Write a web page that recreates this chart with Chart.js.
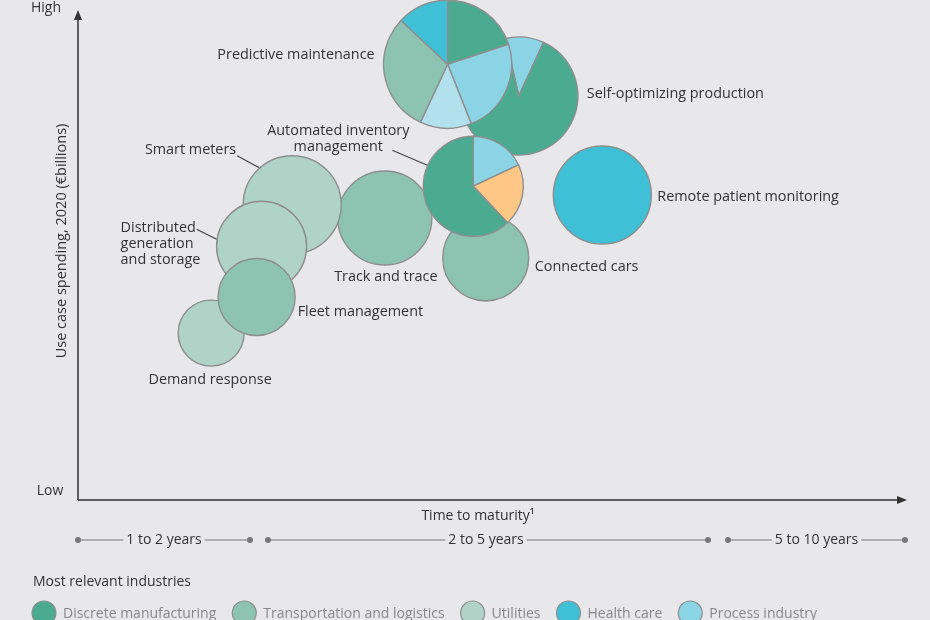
<!DOCTYPE html>
<html>
<head>
<meta charset="utf-8">
<script src="https://cdn.jsdelivr.net/npm/chart.js@4"></script>
<style>
  html, body { margin: 0; padding: 0; background: #e8e8ea; }
  #wrap { width: 930px; height: 620px; }
</style>
</head>
<body>
<div id="wrap"><canvas id="chart" width="930" height="620"></canvas></div>
<script>
/* DATA */

// drawn back to front
const useCases = [
  "Self-optimizing production", "Predictive maintenance", "Connected cars",
  "Track and trace", "Automated inventory management", "Remote patient monitoring",
  "Smart meters", "Distributed generation and storage", "Demand response", "Fleet management"
];
const maturity = [53.3, 44.7, 49.3, 37.1, 47.8, 63.4, 25.9, 22.2, 16.1, 21.6];
const spending = [82.8, 89.3, 49.6, 57.8, 64.3, 62.5, 60.5, 52.0, 34.2, 41.6];
const bubbleSize = [59, 64, 43, 47, 50, 49, 49, 45, 33, 38.5];
const industry = ["mix", "mix", "transport", "transport", "mix", "health",
                  "utilities", "utilities", "utilities", "transport"];

// pie shares (%), clockwise from the start angle
const selfOptIndustries = ["process", "discrete"];
const selfOptShares = [10.5, 89.5];
const predictiveIndustries = ["discrete", "process", "processLight", "transport", "health"];
const predictiveShares = [20, 24, 13, 30, 13];
const inventoryIndustries = ["process", "retail", "discrete"];
const inventoryShares = [18, 20, 62];

const legendLabels = ["Discrete manufacturing", "Transportation and logistics", "Utilities", "Health care", "Process industry"];
const legendKeys = ["discrete", "transport", "utilities", "health", "process"];

const maturityBands = ["1 to 2 years", "2 to 5 years", "5 to 10 years"];

/* STYLE */

const COLORS = {
  discrete: "#4aab90",
  transport: "#8cc4b1",
  utilities: "#afd3c6",
  health: "#3fc0d6",
  process: "#8bd4e5",
  processLight: "#b2e1ed",
  retail: "#ffc785"
};
const EDGE = "#8e8e8e";
const FONT = "'Open Sans', sans-serif";

const pies = {
  "Self-optimizing production": { keys: selfOptIndustries, shares: selfOptShares, start: -13 },
  "Predictive maintenance": { keys: predictiveIndustries, shares: predictiveShares, start: 0 },
  "Automated inventory management": { keys: inventoryIndustries, shares: inventoryShares, start: 0 }
};

// label placement relative to bubble centre (px)
const labelSpots = {
  "Self-optimizing production": { lines: ["Self-optimizing production"], dx: 68, dy: -2, align: "left" },
  "Predictive maintenance": { lines: ["Predictive maintenance"], dx: -73, dy: -9, align: "right" },
  "Connected cars": { lines: ["Connected cars"], dx: 49, dy: 9, align: "left" },
  "Track and trace": { lines: ["Track and trace"], dx: 1, dy: 59, align: "center" },
  "Automated inventory management": { lines: ["Automated inventory", "management"], dx: -135, dy: -55, align: "center",
    leader: [-81, -36, -46, -21] },
  "Remote patient monitoring": { lines: ["Remote patient monitoring"], dx: 55, dy: 2, align: "left" },
  "Smart meters": { lines: ["Smart meters"], dx: -56, dy: -55, align: "right", leader: [-55, -49, -33, -37] },
  "Distributed generation and storage": { lines: ["Distributed", "generation", "and storage"], dx: -141, dy: -18, align: "left",
    leader: [-65, -17, -45, -7] },
  "Demand response": { lines: ["Demand response"], dx: -1, dy: 47, align: "center" },
  "Fleet management": { lines: ["Fleet management"], dx: 41, dy: 15, align: "left" }
};

/* DATASETS (index 0 is drawn on top, so reverse) */

const datasets = useCases.map((name, i) => {
  const isPie = industry[i] === "mix";
  return {
    label: name,
    data: [{ x: maturity[i], y: spending[i], r: bubbleSize[i] }],
    backgroundColor: isPie ? "rgba(0,0,0,0)" : COLORS[industry[i]],
    borderColor: isPie ? "rgba(0,0,0,0)" : EDGE,
    borderWidth: isPie ? 0 : 1.4,
    hoverBorderWidth: isPie ? 0 : 1.4
  };
}).reverse();

/* PLUGINS */

const piePlugin = {
  id: "pies",
  afterDatasetDraw(chart, args) {
    const ds = chart.data.datasets[args.index];
    const pie = pies[ds.label];
    if (!pie) return;
    const el = args.meta.data[0];
    const r = el.options.radius;
    const ctx = chart.ctx;
    const total = pie.shares.reduce((a, b) => a + b, 0);
    let a = (pie.start - 90) * Math.PI / 180;
    ctx.save();
    pie.shares.forEach((s, k) => {
      const b = a + s / total * Math.PI * 2;
      ctx.beginPath();
      ctx.moveTo(el.x, el.y);
      ctx.arc(el.x, el.y, r, a, b);
      ctx.closePath();
      ctx.fillStyle = COLORS[pie.keys[k]];
      ctx.fill();
      ctx.strokeStyle = EDGE;
      ctx.lineWidth = 1.4;
      ctx.stroke();
      a = b;
    });
    ctx.restore();
  }
};

const decorPlugin = {
  id: "decor",
  afterDraw(chart) {
    const ctx = chart.ctx;
    const area = chart.chartArea;
    ctx.save();

    // axes with arrows
    ctx.strokeStyle = "#333";
    ctx.fillStyle = "#333";
    ctx.lineWidth = 1.5;
    ctx.beginPath();
    ctx.moveTo(area.left, area.bottom);
    ctx.lineTo(area.left, area.top + 4);
    ctx.moveTo(area.left, area.bottom);
    ctx.lineTo(area.right - 4, area.bottom);
    ctx.stroke();
    ctx.beginPath();
    ctx.moveTo(area.left, area.top - 2);
    ctx.lineTo(area.left - 4, area.top + 8);
    ctx.lineTo(area.left + 4, area.top + 8);
    ctx.fill();
    ctx.beginPath();
    ctx.moveTo(area.right + 2, area.bottom);
    ctx.lineTo(area.right - 8, area.bottom - 4);
    ctx.lineTo(area.right - 8, area.bottom + 4);
    ctx.fill();

    ctx.font = "14px " + FONT;
    ctx.fillStyle = "#333";
    ctx.textBaseline = "middle";
    ctx.textAlign = "center";
    ctx.fillText("High", 46, 8);
    ctx.fillText("Low", 50, 491);

    // axis titles
    ctx.save();
    ctx.font = "14.5px " + FONT;
    ctx.translate(62, 241);
    ctx.rotate(-Math.PI / 2);
    ctx.fillText("Use case spending, 2020 (€billions)", 0, 0);
    ctx.restore();
    ctx.fillText("Time to maturity¹", 478, 516);

    // maturity bands
    const bands = [[area.left, 250], [268, 708], [728, area.right]];
    ctx.strokeStyle = "#777";
    ctx.lineWidth = 1;
    bands.forEach(([x0, x1], i) => {
      const y = 540;
      const mid = i === 1 ? 486 : (x0 + x1) / 2;
      const w = ctx.measureText(maturityBands[i]).width;
      ctx.beginPath();
      ctx.moveTo(x0, y);
      ctx.lineTo(mid - w / 2 - 3, y);
      ctx.moveTo(mid + w / 2 + 3, y);
      ctx.lineTo(x1, y);
      ctx.stroke();
      ctx.fillStyle = "#777";
      [x0, x1].forEach(x => {
        ctx.beginPath();
        ctx.arc(x, y, 3, 0, Math.PI * 2);
        ctx.fill();
      });
      ctx.fillStyle = "#333";
      ctx.fillText(maturityBands[i], mid, y);
    });

    // bubble labels
    ctx.font = "14.4px " + FONT;
    ctx.fillStyle = "#333";
    chart.data.datasets.forEach((ds, i) => {
      const spot = labelSpots[ds.label];
      const el = chart.getDatasetMeta(i).data[0];
      if (!spot || !el) return;
      ctx.textAlign = spot.align;
      spot.lines.forEach((line, k) => {
        ctx.fillText(line, el.x + spot.dx, el.y + spot.dy + k * 16);
      });
      if (spot.leader) {
        const [a, b, c, d] = spot.leader;
        ctx.strokeStyle = "#444";
        ctx.lineWidth = 1.2;
        ctx.beginPath();
        ctx.moveTo(el.x + a, el.y + b);
        ctx.lineTo(el.x + c, el.y + d);
        ctx.stroke();
      }
    });

    // legend
    ctx.font = "14px " + FONT;
    ctx.textAlign = "left";
    ctx.fillStyle = "#333";
    ctx.fillText("Most relevant industries", 33, 582);
    let x = 32;
    legendKeys.forEach((key, i) => {
      ctx.beginPath();
      ctx.arc(x + 12, 613, 12, 0, Math.PI * 2);
      ctx.fillStyle = COLORS[key];
      ctx.fill();
      ctx.strokeStyle = EDGE;
      ctx.lineWidth = 1.2;
      ctx.stroke();
      ctx.fillStyle = "#888";
      ctx.fillText(legendLabels[i], x + 31, 614);
      x += 31 + ctx.measureText(legendLabels[i]).width + 16;
    });

    ctx.restore();
  }
};

/* CHART */

new Chart(document.getElementById("chart"), {
  type: "bubble",
  data: { datasets },
  options: {
    responsive: false,
    animation: false,
    events: [],
    layout: { autoPadding: false, padding: { left: 78, right: 25, top: 12, bottom: 120 } },
    scales: {
      x: { type: "linear", min: 0, max: 100, display: false },
      y: { type: "linear", min: 0, max: 100, display: false }
    },
    plugins: { legend: { display: false }, tooltip: { enabled: false } }
  },
  plugins: [piePlugin, decorPlugin]
});
</script>
</body>
</html>
